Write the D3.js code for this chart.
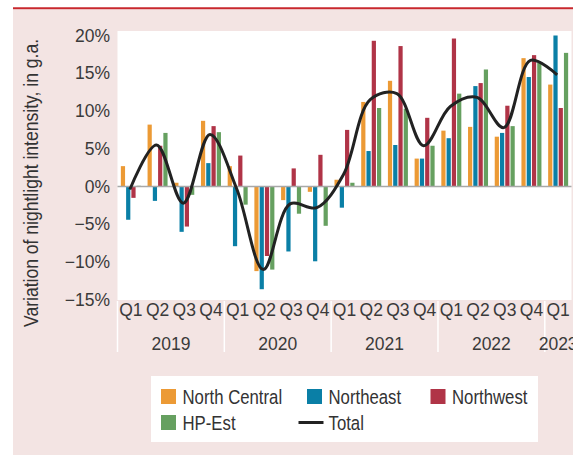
<!doctype html>
<html lang="en">
<head>
    <meta charset="utf-8">
    <title>Nightlight intensity</title>
    <style>
        body {
            margin: 0;
            background-color: white;
        }
        svg {
            display: block;
        }
        .tick text {
            font-family: 'Liberation Sans', Arial, sans-serif;
            font-size: 17.5px;
            fill: #3a3a3a;
        }
        .legend text, .ytitle {
            font-family: 'Liberation Sans', Arial, sans-serif;
            fill: #333;
        }
    </style>
</head>
<body>
    <svg id="chart"></svg>
    <script src="https://d3js.org/d3.v7.min.js"></script>
    <script>
        // data
        var quarters = ["Q1", "Q2", "Q3", "Q4", "Q1", "Q2", "Q3", "Q4", "Q1", "Q2", "Q3", "Q4", "Q1", "Q2", "Q3", "Q4", "Q1"];
        var years = ["2019", "2019", "2019", "2019", "2020", "2020", "2020", "2020", "2021", "2021", "2021", "2021", "2022", "2022", "2022", "2022", "2023"];
        var northCentral = [2.7, 8.2, 0.5, 8.7, 2.7, -11.2, -1.8, -0.7, 0.9, 11.2, 14.0, 3.7, 7.4, 7.9, 6.6, 17.0, 13.5];
        var northeast = [-4.4, -1.9, -6.0, 3.1, -7.9, -13.6, -8.6, -9.9, -2.8, 4.7, 5.5, 3.7, 6.4, 13.3, 7.1, 14.5, 20.0];
        var northwest = [-1.5, 5.4, -5.3, 8.0, 4.1, -9.2, 2.4, 4.2, 7.5, 19.3, 18.6, 9.1, 19.6, 13.7, 10.7, 17.4, 10.4];
        var hpEst = [0.1, 7.1, -1.1, 7.2, -2.4, -11.0, -3.6, -5.2, 0.5, 10.4, 10.3, 5.4, 12.3, 15.5, 8.0, 16.4, 17.7];
        var total = [-0.4, 5.5, -2.2, 6.9, -0.3, -11.0, -2.3, -2.8, 1.6, 11.5, 12.3, 5.4, 10.6, 11.8, 7.8, 16.7, 14.8];
        var yTicks = [-15, -10, -5, 0, 5, 10, 15, 20];

        var seriesNames = ["North Central", "Northeast", "Northwest", "HP-Est"];
        var seriesValues = [northCentral, northeast, northwest, hpEst];
        var colors = ["#ec9a35", "#0a7fa6", "#b03447", "#66a060"];

        var W = 573, H = 456;
        var plot = { left: 117.5, right: 571.5, top: 31, bottom: 300 };
        var squeeze = 0.86; // condensed look for legend and title

        var svg = d3.select("#chart").attr("width", W).attr("height", H);

        // background
        svg.append("rect").attr("x", 13).attr("y", 9.5).attr("width", W - 13).attr("height", 445.5)
            .attr("fill", "#f3e4e3");
        svg.append("line").attr("x1", 13).attr("x2", W).attr("y1", 8.3).attr("y2", 8.3)
            .attr("stroke", "#c8282e").attr("stroke-width", 2);
        svg.append("rect").attr("x", plot.left).attr("y", plot.top)
            .attr("width", plot.right - plot.left).attr("height", plot.bottom - plot.top)
            .attr("fill", "white");

        var idx = d3.range(quarters.length);
        var x = d3.scaleBand().domain(idx).range([plot.left, plot.right]);
        var groupW = 20;
        var xs = d3.scaleBand().domain(d3.range(seriesNames.length)).range([0, groupW]).paddingInner(0.2);
        var y = d3.scaleLinear().domain([-15, 20]).range([299.8, 35.5]);

        // bars
        seriesValues.forEach(function (vals, s) {
            svg.append("g").selectAll("rect")
                .data(vals)
                .join("rect")
                .attr("x", function (d, i) { return x(i) + (x.bandwidth() - groupW) / 2 + xs(s); })
                .attr("width", xs.bandwidth())
                .attr("y", function (d) { return y(Math.max(0, d)); })
                .attr("height", function (d) { return Math.abs(y(d) - y(0)); })
                .attr("fill", colors[s]);
        });

        // zero line
        svg.append("line").attr("x1", plot.left).attr("x2", plot.right)
            .attr("y1", y(0)).attr("y2", y(0))
            .attr("stroke", "#a8a8a8").attr("stroke-width", 1.5);

        // total line
        var line = d3.line()
            .x(function (d, i) { return x(i) + x.bandwidth() / 2 - 1; })
            .y(function (d) { return y(d); })
            .curve(d3.curveCatmullRom.alpha(0.5));
        svg.append("path").datum(total)
            .attr("fill", "none")
            .attr("stroke", "#222")
            .attr("stroke-width", 3)
            .attr("stroke-linejoin", "round")
            .attr("d", line);

        // y axis
        var fmt = d3.format("d");
        var yAxis = svg.append("g")
            .attr("transform", "translate(110,0)")
            .call(d3.axisLeft(y).tickValues(yTicks).tickSize(0).tickPadding(0)
                .tickFormat(function (d) { return fmt(d) + "%"; }));
        yAxis.select(".domain").remove();

        // quarter labels
        var xAxis = svg.append("g")
            .attr("transform", "translate(0," + plot.bottom + ")")
            .call(d3.axisBottom(x).tickSize(0).tickPadding(4)
                .tickFormat(function (i) { return quarters[i]; }));
        xAxis.select(".domain").remove();

        // year labels and separators
        var yearList = Array.from(new Set(years));
        yearList.forEach(function (yr) {
            var ids = idx.filter(function (i) { return years[i] === yr; });
            var x0 = x(ids[0]);
            var x1 = x(ids[ids.length - 1]) + x.bandwidth();
            svg.append("line").attr("x1", x0).attr("x2", x0).attr("y1", 301).attr("y2", 352)
                .attr("stroke", "white").attr("stroke-width", 1.5);
            svg.append("text")
                .attr("x", (x0 + x1) / 2)
                .attr("y", 349.5)
                .attr("text-anchor", "middle")
                .style("font-family", "'Liberation Sans', Arial, sans-serif")
                .style("font-size", "17.5px")
                .style("fill", "#3a3a3a")
                .text(yr);
        });

        // y title
        svg.append("text")
            .attr("class", "ytitle")
            .attr("transform", "translate(38,183) rotate(-90) scale(0.9,1)")
            .attr("text-anchor", "middle")
            .style("font-size", "19.5px")
            .text("Variation of nightlight intensity, in g.a.");

        // legend
        var legend = svg.append("g").attr("class", "legend");
        legend.append("rect").attr("x", 151).attr("y", 376).attr("width", 387).attr("height", 66)
            .attr("fill", "white");
        var items = [
            { name: seriesNames[0], color: colors[0], x: 161, y: 389, type: "box" },
            { name: seriesNames[1], color: colors[1], x: 307, y: 389, type: "box" },
            { name: seriesNames[2], color: colors[2], x: 430.5, y: 389, type: "box" },
            { name: seriesNames[3], color: colors[3], x: 161, y: 415, type: "box" },
            { name: "Total", color: "#222", x: 307, y: 415, type: "line" }
        ];
        items.forEach(function (it) {
            if (it.type === "box") {
                legend.append("rect").attr("x", it.x).attr("y", it.y).attr("width", 15).attr("height", 15)
                    .attr("fill", it.color);
            } else {
                legend.append("line").attr("x1", it.x - 8.5).attr("x2", it.x + 16.5)
                    .attr("y1", it.y + 7.5).attr("y2", it.y + 7.5)
                    .attr("stroke", it.color).attr("stroke-width", 3);
            }
            legend.append("text")
                .attr("transform", "translate(" + (it.x + 21.5) + "," + (it.y + 15) + ") scale(" + squeeze + ",1)")
                .style("font-size", "19.5px")
                .text(it.name);
        });
    </script>
</body>
</html>
